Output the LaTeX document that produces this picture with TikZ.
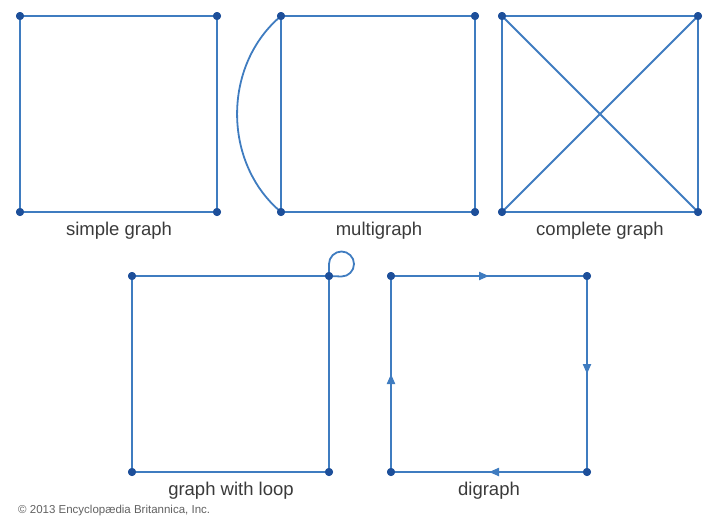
\documentclass[tikz,border=0pt]{standalone}
\usepackage{fontspec}
\setmainfont{Liberation Sans}
\usetikzlibrary{decorations.markings,arrows.meta}
\definecolor{edgeblue}{HTML}{3F7CC0}
\definecolor{dotblue}{HTML}{1D4F9A}
\definecolor{labelgray}{HTML}{3A3A3A}
\tikzset{
  vtx/.style={circle,fill=dotblue,inner sep=0pt,minimum size=8pt},
  edge/.style={draw=edgeblue,line width=2.1pt},
  lbl/.style={text=labelgray,font=\fontsize{18.5}{20}\selectfont,inner sep=0pt},
  midarrow/.style={decoration={markings,mark=at position 0.5 with {\arrow{Triangle[length=10pt,width=8pt]}}},postaction={decorate}},
}
\begin{document}
\begin{tikzpicture}[x=1pt,y=-1pt]
\useasboundingbox (0,0) rectangle (720,523);
% simple graph
\node[vtx] (s1) at (20,16) {};
\node[vtx] (s2) at (217,16) {};
\node[vtx] (s3) at (217,212) {};
\node[vtx] (s4) at (20,212) {};
\draw[edge] (s1.center) -- (s2.center) -- (s3.center) -- (s4.center) -- cycle;
\node[lbl] (ls) at (119,231) {simple graph};
% multigraph
\node[vtx] (m1) at (281,16) {};
\node[vtx] (m2) at (475,16) {};
\node[vtx] (m3) at (475,212) {};
\node[vtx] (m4) at (281,212) {};
\draw[edge] (m1.center) -- (m2.center) -- (m3.center) -- (m4.center) -- cycle;
\draw[edge,line width=1.8pt] (m1.center) to[bend right=50] (m4.center);
\node[lbl] (lm) at (379,231) {multigraph};
% complete graph
\node[vtx] (c1) at (502,16) {};
\node[vtx] (c2) at (698,16) {};
\node[vtx] (c3) at (698,212) {};
\node[vtx] (c4) at (502,212) {};
\draw[edge] (c1.center) -- (c2.center) -- (c3.center) -- (c4.center) -- cycle;
\draw[edge] (c1.center) -- (c3.center);
\draw[edge] (c2.center) -- (c4.center);
\node[lbl] (lc) at (600,231) {complete graph};
% graph with loop
\node[vtx] (g1) at (132,276) {};
\node[vtx] (g2) at (329,276) {};
\node[vtx] (g3) at (329,472) {};
\node[vtx] (g4) at (132,472) {};
\draw[edge] (g1.center) -- (g2.center) -- (g3.center) -- (g4.center) -- cycle;
\coordinate (lp) at (329,264);
\draw[edge,line width=1.8pt] (g2.center) -- (lp) arc[start angle=180,end angle=450,radius=12.5] -- (g2.center);
\node[lbl] (lg) at (231,491) {graph with loop};
% digraph
\node[vtx] (d1) at (391,276) {};
\node[vtx] (d2) at (587,276) {};
\node[vtx] (d3) at (587,472) {};
\node[vtx] (d4) at (391,472) {};
\draw[edge,midarrow] (d1.center) -- (d2.center);
\draw[edge,midarrow] (d2.center) -- (d3.center);
\draw[edge,midarrow] (d3.center) -- (d4.center);
\draw[edge,midarrow] (d4.center) -- (d1.center);
\node[lbl] (ld) at (489,491) {digraph};
% redraw vertices on top
\foreach \n in {s1,s2,s3,s4,m1,m2,m3,m4,c1,c2,c3,c4,g1,g2,g3,g4,d1,d2,d3,d4}
  \fill[dotblue] (\n.center) circle (4pt);
\node[text=labelgray!80,font=\fontsize{11.5}{12}\selectfont,anchor=west,inner sep=0pt] (copy) at (18,511) {© 2013 Encyclopædia Britannica, Inc.};
\end{tikzpicture}
\end{document}
